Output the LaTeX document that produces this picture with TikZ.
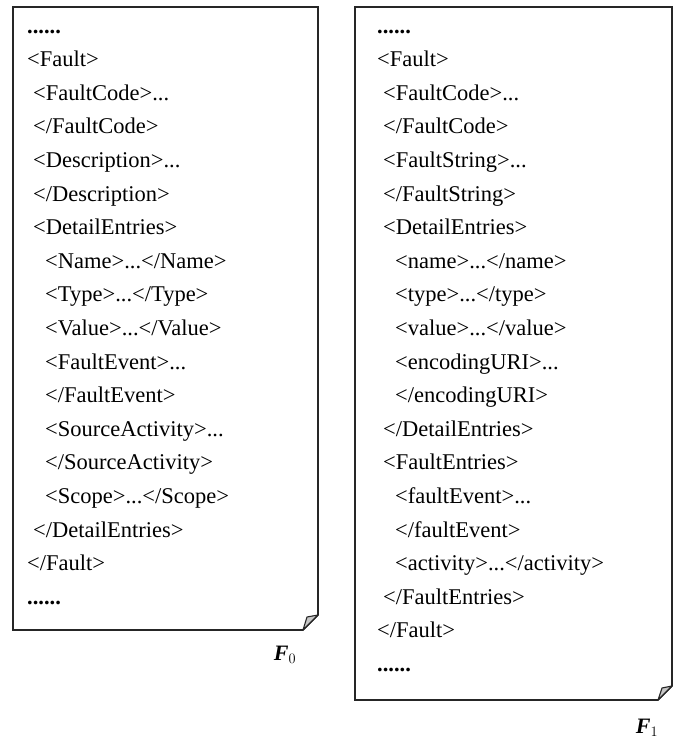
\documentclass[tikz,border=0pt]{standalone}
\usepackage{fontspec}
\setmainfont{Liberation Serif}
\begin{document}
\begin{tikzpicture}[x=1pt,y=-1pt,
  line/.style={anchor=base west,inner sep=0pt,font=\fontsize{22.5}{27}\selectfont},
  doc/.style={line width=1.6pt,draw=black!85,line join=miter},
  flap/.style={line width=1.1pt,draw=black!85,fill=black!22,line join=round},
  tag/.style={anchor=base,inner sep=0pt,font=\fontsize{22}{26}\selectfont}]
\useasboundingbox (0,0) rectangle (676,739);

% line pitch and first baseline shared by both documents
\def\pitch{33.6}\def\top{33}

% ---- left document F0 ----
\draw[doc] (13,7) -- (318,7) -- (318,615) -- (303,630) -- (13,630) -- cycle;
\filldraw[flap] (303,630) -- (307,617) -- (318,615) -- cycle;

\def\la{27}\def\lb{33}\def\lc{45}
\node[line] (l0)  at (\la,\top+0*\pitch)  {\textbf{......}};
\node[line] (l1)  at (\la,\top+1*\pitch)  {<Fault>};
\node[line] (l2)  at (\lb,\top+2*\pitch)  {<FaultCode>...};
\node[line] (l3)  at (\lb,\top+3*\pitch)  {</FaultCode>};
\node[line] (l4)  at (\lb,\top+4*\pitch)  {<Description>...};
\node[line] (l5)  at (\lb,\top+5*\pitch)  {</Description>};
\node[line] (l6)  at (\lb,\top+6*\pitch)  {<DetailEntries>};
\node[line] (l7)  at (\lc,\top+7*\pitch)  {<Name>...</Name>};
\node[line] (l8)  at (\lc,\top+8*\pitch)  {<Type>...</Type>};
\node[line] (l9)  at (\lc,\top+9*\pitch)  {<Value>...</Value>};
\node[line] (l10) at (\lc,\top+10*\pitch) {<FaultEvent>...};
\node[line] (l11) at (\lc,\top+11*\pitch) {</FaultEvent>};
\node[line] (l12) at (\lc,\top+12*\pitch) {<SourceActivity>...};
\node[line] (l13) at (\lc,\top+13*\pitch) {</SourceActivity>};
\node[line] (l14) at (\lc,\top+14*\pitch) {<Scope>...</Scope>};
\node[line] (l15) at (\lb,\top+15*\pitch) {</DetailEntries>};
\node[line] (l16) at (\la,\top+16*\pitch) {</Fault>};
\node[line] (l17) at (\la,\top+17*\pitch) {\textbf{......}};

\node[tag] (f0) at (285,660) {\textbf{\textit{F}}$_0$};

% ---- right document F1 ----
\draw[doc] (355,7) -- (672,7) -- (672,686) -- (658,700) -- (355,700) -- cycle;
\filldraw[flap] (658,700) -- (662,688) -- (672,686) -- cycle;

\def\ra{377}\def\rb{383}\def\rc{395}
\node[line] (r0)  at (\ra,\top+0*\pitch)  {\textbf{......}};
\node[line] (r1)  at (\ra,\top+1*\pitch)  {<Fault>};
\node[line] (r2)  at (\rb,\top+2*\pitch)  {<FaultCode>...};
\node[line] (r3)  at (\rb,\top+3*\pitch)  {</FaultCode>};
\node[line] (r4)  at (\rb,\top+4*\pitch)  {<FaultString>...};
\node[line] (r5)  at (\rb,\top+5*\pitch)  {</FaultString>};
\node[line] (r6)  at (\rb,\top+6*\pitch)  {<DetailEntries>};
\node[line] (r7)  at (\rc,\top+7*\pitch)  {<name>...</name>};
\node[line] (r8)  at (\rc,\top+8*\pitch)  {<type>...</type>};
\node[line] (r9)  at (\rc,\top+9*\pitch)  {<value>...</value>};
\node[line] (r10) at (\rc,\top+10*\pitch) {<encodingURI>...};
\node[line] (r11) at (\rc,\top+11*\pitch) {</encodingURI>};
\node[line] (r12) at (\rb,\top+12*\pitch) {</DetailEntries>};
\node[line] (r13) at (\rb,\top+13*\pitch) {<FaultEntries>};
\node[line] (r14) at (\rc,\top+14*\pitch) {<faultEvent>...};
\node[line] (r15) at (\rc,\top+15*\pitch) {</faultEvent>};
\node[line] (r16) at (\rc,\top+16*\pitch) {<activity>...</activity>};
\node[line] (r17) at (\rb,\top+17*\pitch) {</FaultEntries>};
\node[line] (r18) at (\ra,\top+18*\pitch) {</Fault>};
\node[line] (r19) at (\ra,\top+19*\pitch) {\textbf{......}};

\node[tag] (f1) at (647,733) {\textbf{\textit{F}}$_1$};
\end{tikzpicture}
\end{document}
